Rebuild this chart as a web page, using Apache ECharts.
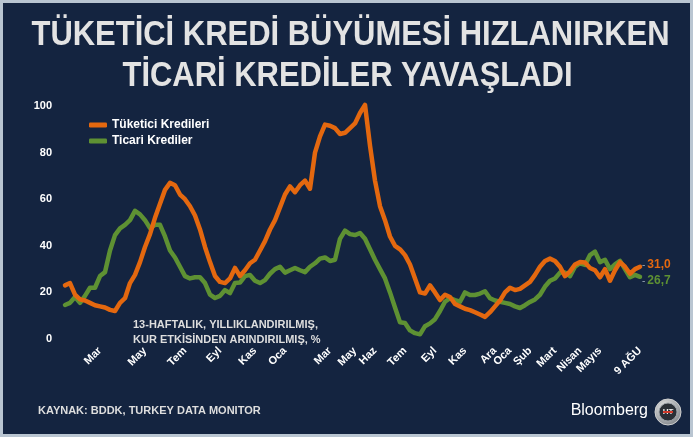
<!DOCTYPE html>
<html>
<head>
<meta charset="utf-8">
<script src="https://cdn.jsdelivr.net/npm/echarts@6/dist/echarts.min.js"></script>
<style>
html,body{margin:0;padding:0;background:#142440;}
#c{width:693px;height:437px;}
</style>
</head>
<body>
<div id="c"></div>
<script>
// ---- data ----
const titleLines = ['TÜKETİCİ KREDİ BÜYÜMESİ HIZLANIRKEN', 'TİCARİ KREDİLER YAVAŞLADI'];
const seriesNames = ['Tüketici Kredileri', 'Ticari Krediler'];
const tuketici = [23,24,19,17,16.5,15.5,14.5,14,13.5,12.5,
  12,15.5,17.5,24,27.5,33,39.5,45,52,58,
  64,67,66,62,60,57,53,47,39.5,33,
  27,24.5,24,26,30.5,27,29.5,32.5,34,38,
  42,47,51,56.5,62,65.5,63,66,68,64.5,
  80,87,92,91.5,90.5,88,88.5,90.5,92.5,97,
  100.5,83,68,57,51,44,40,38.5,36,32,
  26,20,19.5,23,20,16.7,19,18,15,14,
  13,12.4,11.5,10.5,9.5,11.5,14,16.5,20,22,
  21,21.5,23,24.5,27.5,31,33.5,34.5,33.5,31,
  27,29,32,33,32.8,30.5,29.5,26.5,30,25,
  29.5,33,31,28,30,31];
const ticari = [14.6,15.5,18,15.5,18.5,22,22,27,28.7,38,
  44.6,47.5,49,51,55,53.5,51,47.6,49,49,
  44,38,35,31,27,26,26.5,26.5,24,19,
  17.6,18.5,21,19.7,24,24.2,27,27.5,25,24,
  25.3,28,30,31,28.5,29.5,30.5,29.5,28.7,31,
  32.5,34.5,35,33.5,34,43,46.5,45,44.6,45.5,
  43,38.5,34,30,26,20,13.5,7.2,6.9,3.7,
  2.5,2,5.5,6.7,8.5,12,16,17.5,16.7,16,
  20,18.9,18.9,19.5,20.5,17.5,16.5,16,15.5,15,
  14,13.3,14.5,15.9,17,19,22.5,25,26,28.5,
  28.5,27,31,32.5,31.8,36,37.5,33,34,30,
  32,33.5,30,26.5,27.5,26.7];
const weeks = tuketici.map((_, i) => i);
const tickIndex = [7,16,24,31,38,44,53,58,62,68,74,80,86,89,93,98,103,107,115];
const tickText  = ['Mar','May','Tem','Eyl','Kas','Oca','Mar','May','Haz','Tem','Eyl','Kas','Ara','Oca','Şub','Mart','Nisan','Mayıs','9 AĞU'];
const yTicks = [0,20,40,60,80,100];
const noteLines = ['13-HAFTALIK, YILLIKLANDIRILMIŞ,', 'KUR ETKİSİNDEN ARINDIRILMIŞ, %'];
const sourceText = 'KAYNAK: BDDK, TURKEY DATA MONITOR';

// ---- styling ----
const BG = '#142440';
const ORANGE = '#e4680f';
const GREEN = '#5e9133';
const FONT = '"Liberation Sans", Arial, sans-serif';

const tickMap = {};
tickIndex.forEach((k, i) => { tickMap[k] = tickText[i]; });

const cv = document.createElement('canvas').getContext('2d');
cv.font = 'bold 35px ' + FONT;
const titleScale = 638 / cv.measureText(titleLines[0]).width;

const fmt = v => v.toFixed(1).replace('.', ',');

const chart = echarts.init(document.getElementById('c'), null, {renderer: 'canvas'});
chart.setOption({
  backgroundColor: BG,
  animation: false,
  grid: {left: 65, right: 53, top: 106, bottom: 98},
  legend: {
    data: seriesNames,
    orient: 'vertical',
    left: 84, top: 114,
    icon: 'roundRect',
    itemWidth: 18, itemHeight: 5,
    itemGap: 4,
    textStyle: {color: '#ffffff', fontFamily: FONT, fontWeight: 'bold', fontSize: 12}
  },
  xAxis: {
    type: 'category',
    data: weeks,
    boundaryGap: false,
    axisLine: {show: false},
    axisTick: {show: false},
    splitLine: {show: false},
    axisLabel: {
      interval: 0, rotate: 45, margin: 10,
      color: '#ffffff', fontFamily: FONT, fontWeight: 'bold', fontSize: 11,
      formatter: v => tickMap[v] || ''
    }
  },
  yAxis: {
    type: 'value',
    min: yTicks[0], max: yTicks[yTicks.length - 1], interval: yTicks[1] - yTicks[0],
    axisLine: {show: false},
    axisTick: {show: false},
    splitLine: {show: false},
    axisLabel: {color: '#ffffff', fontFamily: FONT, fontWeight: 'bold', fontSize: 11, margin: 13}
  },
  series: [
    {
      name: seriesNames[0], type: 'line', data: tuketici, showSymbol: false, symbol: 'none',
      clip: false, smooth: false, z: 3,
      lineStyle: {color: ORANGE, width: 4.5, cap: 'round', join: 'round'},
      itemStyle: {color: ORANGE},
      endLabel: {
        show: true, distance: 2, offset: [0, -2],
        formatter: p => '{d|-}{v|' + fmt(p.value) + '}',
        rich: {
          d: {color: '#9aa6b4', fontSize: 10, fontFamily: FONT, padding: [0, 2, 0, 0]},
          v: {color: ORANGE, fontSize: 12, fontWeight: 'bold', fontFamily: FONT}
        }
      }
    },
    {
      name: seriesNames[1], type: 'line', data: ticari, showSymbol: false, symbol: 'none',
      clip: false, smooth: false, z: 2,
      lineStyle: {color: GREEN, width: 4.5, cap: 'round', join: 'round'},
      itemStyle: {color: GREEN},
      endLabel: {
        show: true, distance: 2, offset: [0, 4],
        formatter: p => '{d|-}{v|' + fmt(p.value) + '}',
        rich: {
          d: {color: '#9aa6b4', fontSize: 10, fontFamily: FONT, padding: [0, 2, 0, 0]},
          v: {color: GREEN, fontSize: 12, fontWeight: 'bold', fontFamily: FONT}
        }
      }
    }
  ],
  graphic: [
    {type: 'rect', z: 100, silent: true,
     shape: {x: 1.5, y: 1.5, width: 690, height: 434},
     style: {fill: 'none', stroke: '#b9c5d1', lineWidth: 3}},
    {type: 'text', x: 350.5, y: 35, scaleX: titleScale, z: 10,
     style: {text: titleLines[0], font: 'bold 35px ' + FONT, fill: '#e3e3e3', align: 'center', verticalAlign: 'middle'}},
    {type: 'text', x: 347.5, y: 76, scaleX: titleScale, z: 10,
     style: {text: titleLines[1], font: 'bold 35px ' + FONT, fill: '#e3e3e3', align: 'center', verticalAlign: 'middle'}},
    {type: 'text', x: 133, y: 325, z: 10,
     style: {text: noteLines[0], font: 'bold 11px ' + FONT, fill: '#dedede', align: 'left', verticalAlign: 'middle'}},
    {type: 'text', x: 133, y: 340, z: 10,
     style: {text: noteLines[1], font: 'bold 11px ' + FONT, fill: '#dedede', align: 'left', verticalAlign: 'middle'}},
    {type: 'text', x: 38, y: 411, z: 10,
     style: {text: sourceText, font: 'bold 11px ' + FONT, fill: '#dedede', align: 'left', verticalAlign: 'middle'}},
    {type: 'text', x: 648, y: 411, z: 10,
     style: {text: 'Bloomberg', font: '16px ' + FONT, fill: '#ffffff', align: 'right', verticalAlign: 'middle'}},
    {type: 'circle', z: 10, shape: {cx: 668, cy: 412, r: 13},
     style: {fill: {type: 'radial', x: 0.4, y: 0.35, r: 0.8, colorStops: [{offset: 0, color: '#f0f0f0'}, {offset: 1, color: '#6d7278'}]}, stroke: '#d0d0d0', lineWidth: 1}},
    {type: 'circle', z: 11, shape: {cx: 668, cy: 412, r: 9},
     style: {fill: '#2a2f36', stroke: '#9aa0a6', lineWidth: 1}},
    {type: 'text', x: 668, y: 412, z: 12,
     style: {text: 'HT', font: 'bold 8px ' + FONT, fill: '#f2f2f2', align: 'center', verticalAlign: 'middle'}},
    {type: 'rect', z: 12, shape: {x: 663, y: 411, width: 10, height: 2}, style: {fill: '#d23a2a'}}
  ]
});
</script>
</body>
</html>
